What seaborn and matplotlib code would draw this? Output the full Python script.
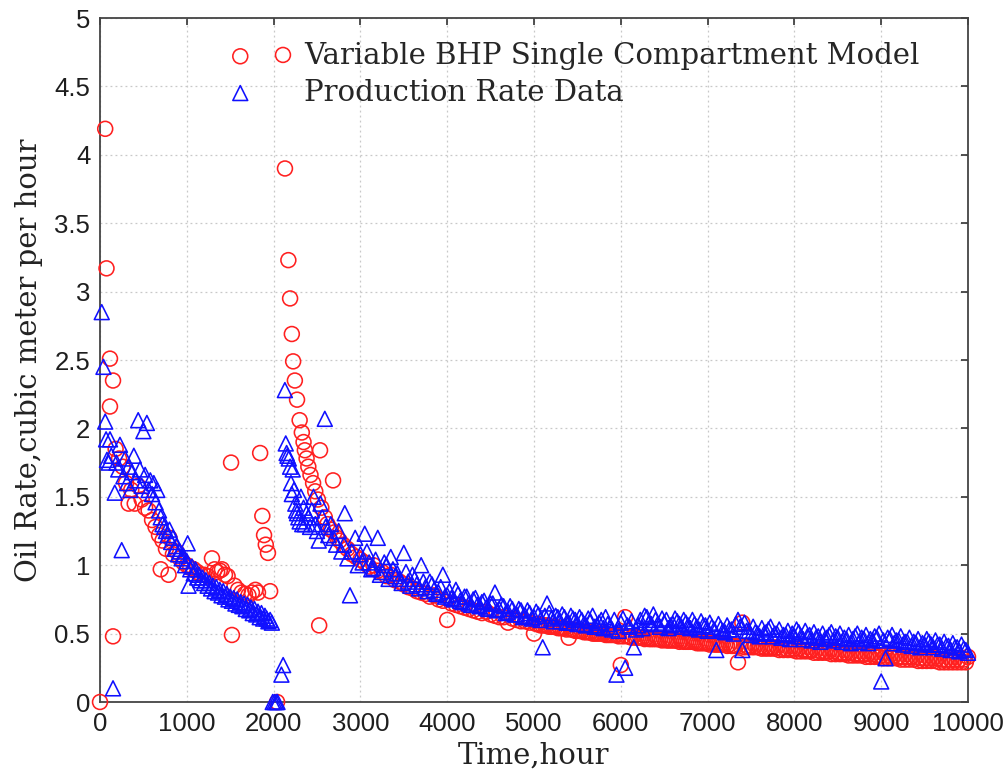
import matplotlib
matplotlib.use("Agg")
import matplotlib.pyplot as plt
import numpy as np
import pandas as pd
import seaborn as sns

# ---------------- data ----------------
# Model: first production period
model_t1 = [0, 60, 75, 115, 115, 150, 150, 180, 220, 260, 300, 330, 360, 400, 440, 480, 520,
            560, 600, 640, 680, 700, 720, 760, 790, 800, 840, 880, 920, 960, 1000, 1040,
            1080, 1120, 1160, 1200, 1240, 1290, 1320, 1350, 1380, 1405, 1440, 1470, 1510,
            1520, 1550, 1590, 1630, 1670, 1710, 1750, 1790, 1820, 1845, 1870, 1890, 1910,
            1935, 1960, 2040]
model_q1 = [0.0, 4.19, 3.17, 2.51, 2.16, 2.35, 0.48, 1.85, 1.78, 1.72, 1.60, 1.45, 1.55,
            1.45, 1.58, 1.48, 1.42, 1.40, 1.33, 1.28, 1.22, 0.97, 1.18, 1.12, 0.93, 1.20,
            1.08, 1.10, 1.05, 1.02, 1.00, 0.98, 0.97, 0.95, 0.93, 0.93, 0.92, 1.05, 0.97,
            0.95, 0.96, 0.97, 0.93, 0.92, 1.75, 0.49, 0.85, 0.82, 0.80, 0.79, 0.78, 0.80,
            0.82, 0.80, 1.82, 1.36, 1.22, 1.15, 1.09, 0.81, 0.0]
# Model: after restart
model_t2 = [2108, 2131, 2170, 2190, 2210, 2225, 2245, 2270, 2300, 2325, 2345, 2360, 2380,
            2400, 2425, 2455, 2480, 2510, 2525, 2535, 2550, 2590, 2620, 2660, 2685, 2700,
            2730, 2760, 2800, 2850, 2900, 2950]
model_q2 = [4.73, 3.90, 3.23, 2.95, 2.69, 2.49, 2.35, 2.21, 2.06, 1.97, 1.90, 1.84, 1.78,
            1.72, 1.66, 1.60, 1.54, 1.48, 0.56, 1.84, 1.42, 1.35, 1.30, 1.26, 1.62, 1.24,
            1.20, 1.18, 1.15, 1.12, 1.08, 1.06]
# Model: long decline (every 50 h)
model_t3 = [3000, 3050, 3100, 3150, 3200, 3250, 3300, 3350, 3400, 3450, 3500, 3550, 3600,
            3650, 3700, 3750, 3800, 3850, 3900, 3950, 4000, 4050, 4100, 4150, 4200, 4250,
            4300, 4350, 4400, 4450, 4500, 4550, 4600, 4650, 4700, 4750, 4800, 4850, 4900,
            4950, 5000, 5050, 5100, 5150, 5200, 5250, 5300, 5350, 5400, 5450, 5500, 5550,
            5600, 5650, 5700, 5750, 5800, 5850, 5900, 5950, 6000, 6050, 6100, 6150, 6200,
            6250, 6300, 6350, 6400, 6450, 6500, 6550, 6600, 6650, 6700, 6750, 6800, 6850,
            6900, 6950, 7000, 7050, 7100, 7150, 7200, 7250, 7300, 7350, 7400, 7450, 7500,
            7550, 7600, 7650, 7700, 7750, 7800, 7850, 7900, 7950, 8000, 8050, 8100, 8150,
            8200, 8250, 8300, 8350, 8400, 8450, 8500, 8550, 8600, 8650, 8700, 8750, 8800,
            8850, 8900, 8950, 9000, 9050, 9100, 9150, 9200, 9250, 9300, 9350, 9400, 9450,
            9500, 9550, 9600, 9650, 9700, 9750, 9800, 9850, 9900, 9950, 10000]
model_q3 = [1.04, 1.02, 0.99, 1.00, 0.96, 0.95, 0.92, 0.93, 0.89, 0.88, 0.86, 0.84, 0.83,
            0.81, 0.80, 0.79, 0.77, 0.78, 0.75, 0.74, 0.60, 0.72, 0.71, 0.70, 0.69, 0.68,
            0.67, 0.66, 0.65, 0.66, 0.64, 0.63, 0.62, 0.62, 0.58, 0.61, 0.60, 0.59, 0.59,
            0.58, 0.50, 0.57, 0.56, 0.56, 0.55, 0.55, 0.54, 0.54, 0.47, 0.53, 0.52, 0.52,
            0.51, 0.51, 0.50, 0.50, 0.50, 0.49, 0.49, 0.49, 0.27, 0.62, 0.48, 0.48, 0.47,
            0.47, 0.47, 0.46, 0.46, 0.46, 0.46, 0.45, 0.45, 0.45, 0.45, 0.44, 0.44, 0.44,
            0.43, 0.43, 0.43, 0.43, 0.42, 0.42, 0.42, 0.42, 0.41, 0.29, 0.58, 0.41, 0.41,
            0.41, 0.40, 0.40, 0.40, 0.40, 0.40, 0.39, 0.39, 0.39, 0.39, 0.39, 0.38, 0.38,
            0.38, 0.38, 0.37, 0.37, 0.37, 0.37, 0.36, 0.36, 0.36, 0.36, 0.35, 0.35, 0.35,
            0.35, 0.35, 0.34, 0.34, 0.34, 0.34, 0.34, 0.33, 0.33, 0.33, 0.33, 0.33, 0.32,
            0.32, 0.32, 0.32, 0.32, 0.31, 0.31, 0.31, 0.31, 0.31, 0.31, 0.33]
# Model: interleaved points of the late decline
model_t4 = [5025, 5075, 5125, 5175, 5225, 5275, 5325, 5375, 5425, 5475, 5525, 5575, 5625,
            5675, 5725, 5775, 5825, 5875, 5925, 5975, 6025, 6075, 6125, 6175, 6225, 6275,
            6325, 6375, 6425, 6475, 6525, 6575, 6625, 6675, 6725, 6775, 6825, 6875, 6925,
            6975, 7025, 7075, 7125, 7175, 7225, 7275, 7325, 7375, 7425, 7475, 7525, 7575,
            7625, 7675, 7725, 7775, 7825, 7875, 7925, 7975, 8025, 8075, 8125, 8175, 8225,
            8275, 8325, 8375, 8425, 8475, 8525, 8575, 8625, 8675, 8725, 8775, 8825, 8875,
            8925, 8975, 9025, 9075, 9125, 9175, 9225, 9275, 9325, 9375, 9425, 9475, 9525,
            9575, 9625, 9675, 9725, 9775, 9825, 9875, 9925, 9975]
model_q4 = [0.57, 0.56, 0.56, 0.55, 0.55, 0.54, 0.54, 0.53, 0.53, 0.52, 0.52, 0.51, 0.51,
            0.50, 0.50, 0.50, 0.49, 0.49, 0.49, 0.48, 0.48, 0.48, 0.47, 0.47, 0.47, 0.46,
            0.46, 0.46, 0.46, 0.45, 0.45, 0.45, 0.45, 0.44, 0.44, 0.44, 0.44, 0.43, 0.43,
            0.43, 0.42, 0.42, 0.42, 0.42, 0.41, 0.41, 0.41, 0.41, 0.40, 0.40, 0.40, 0.40,
            0.39, 0.39, 0.39, 0.39, 0.38, 0.38, 0.38, 0.38, 0.37, 0.37, 0.37, 0.37, 0.36,
            0.36, 0.36, 0.36, 0.35, 0.35, 0.35, 0.35, 0.34, 0.34, 0.34, 0.34, 0.33, 0.33,
            0.33, 0.33, 0.32, 0.32, 0.32, 0.32, 0.31, 0.31, 0.31, 0.31, 0.30, 0.30, 0.30,
            0.30, 0.30, 0.29, 0.29, 0.29, 0.29, 0.29, 0.29, 0.29]

# Data: first production period
data_t1 = [20, 40, 60, 70, 80, 100, 115, 130, 150, 170, 190, 210, 230, 250, 270, 290, 310,
           330, 350, 370, 390, 410, 440, 460, 480, 500, 520, 540, 560, 580, 600, 620, 640,
           660, 680, 700, 720, 740, 760, 780, 800, 820, 840, 860, 880, 900, 920, 940, 960,
           980, 1000, 1010, 1020, 1040, 1060, 1080, 1100, 1120, 1140, 1160, 1180, 1200,
           1220, 1240, 1260, 1280, 1300, 1320, 1340, 1360, 1380, 1400, 1420, 1440, 1460,
           1480, 1500, 1520, 1540, 1560, 1580, 1600, 1620, 1640, 1660, 1680, 1700, 1720,
           1740, 1760, 1780, 1800, 1820, 1840, 1860, 1880, 1900, 1920, 1940, 1960, 1980,
           1990, 2010, 2030, 2045, 2090, 2110]
data_q1 = [2.85, 2.45, 2.05, 1.92, 1.77, 1.75, 1.92, 1.80, 0.10, 1.53, 1.75, 1.70, 1.88,
           1.11, 1.65, 1.78, 1.60, 1.72, 1.55, 1.68, 1.80, 1.62, 2.06, 1.70, 1.58, 1.98,
           1.66, 2.04, 1.55, 1.62, 1.52, 1.60, 1.46, 1.55, 1.40, 1.35, 1.30, 1.28, 1.25,
           1.22, 1.26, 1.17, 1.20, 1.12, 1.14, 1.08, 1.10, 1.05, 1.07, 1.00, 1.03, 1.16,
           0.85, 0.97, 0.99, 0.94, 0.97, 0.91, 0.93, 0.89, 0.91, 0.87, 0.89, 0.85, 0.87,
           0.83, 0.85, 0.81, 0.84, 0.80, 0.82, 0.78, 0.81, 0.77, 0.79, 0.75, 0.77, 0.74,
           0.76, 0.72, 0.75, 0.71, 0.73, 0.70, 0.72, 0.68, 0.71, 0.67, 0.69, 0.65, 0.68,
           0.64, 0.66, 0.62, 0.65, 0.61, 0.63, 0.61, 0.59, 0.60, 0.58, 0.0, 0.0, 0.0,
           0.0, 0.20, 0.27]
# Data: after restart
data_t2 = [2130, 2140, 2150, 2160, 2175, 2190, 2200, 2210, 2220, 2235, 2250, 2260, 2270,
           2285, 2300, 2315, 2330, 2345, 2360, 2380, 2400, 2420, 2440, 2460, 2480, 2500,
           2520, 2540, 2560, 2590, 2600, 2630, 2660, 2690, 2720, 2750, 2780, 2810, 2820,
           2850, 2880, 2900, 2940, 2970]
data_q2 = [2.28, 1.89, 1.82, 1.80, 1.78, 1.72, 1.60, 1.52, 1.70, 1.55, 1.45, 1.40, 1.38,
           1.35, 1.32, 1.50, 1.30, 1.42, 1.30, 1.38, 1.35, 1.28, 1.40, 1.50, 1.30, 1.25,
           1.18, 1.45, 1.35, 2.07, 1.28, 1.22, 1.30, 1.20, 1.15, 1.25, 1.10, 1.15, 1.38,
           1.05, 0.78, 1.10, 1.20, 1.00]
# Data: long decline (every 50 h)
data_t3 = model_t3
data_q3 = [1.08, 1.23, 1.02, 0.98, 1.20, 0.95, 1.00, 1.06, 0.92, 0.90, 1.09, 0.88, 0.93,
           0.86, 1.00, 0.84, 0.88, 0.82, 0.80, 0.93, 0.78, 0.76, 0.82, 0.74, 0.77, 0.72,
           0.75, 0.71, 0.73, 0.69, 0.72, 0.80, 0.68, 0.70, 0.66, 0.68, 0.64, 0.67, 0.63,
           0.65, 0.62, 0.64, 0.40, 0.72, 0.61, 0.63, 0.59, 0.62, 0.58, 0.61, 0.57, 0.60,
           0.56, 0.59, 0.55, 0.58, 0.54, 0.57, 0.53, 0.20, 0.58, 0.25, 0.55, 0.40, 0.56,
           0.54, 0.62, 0.57, 0.60, 0.55, 0.58, 0.54, 0.57, 0.59, 0.55, 0.58, 0.54, 0.57,
           0.53, 0.56, 0.52, 0.55, 0.38, 0.54, 0.51, 0.53, 0.50, 0.60, 0.38, 0.52, 0.49,
           0.51, 0.48, 0.50, 0.53, 0.48, 0.50, 0.47, 0.49, 0.46, 0.48, 0.51, 0.46, 0.48,
           0.45, 0.47, 0.44, 0.46, 0.49, 0.45, 0.47, 0.44, 0.46, 0.43, 0.48, 0.44, 0.46,
           0.43, 0.45, 0.47, 0.15, 0.32, 0.46, 0.43, 0.45, 0.42, 0.44, 0.41, 0.43, 0.40,
           0.42, 0.44, 0.40, 0.42, 0.39, 0.41, 0.38, 0.40, 0.37, 0.39, 0.36]
# Data: interleaved points of the decline
data_t4 = [3025, 3075, 3125, 3175, 3225, 3275, 3325, 3375, 3425, 3475, 3525, 3575, 3625,
           3675, 3725, 3775, 3825, 3875, 3925, 3975, 4025, 4075, 4125, 4175, 4225, 4275,
           4325, 4375, 4425, 4475, 4525, 4575, 4625, 4675, 4725, 4775, 4825, 4875, 4925,
           4975] + model_t4
data_q4 = [1.02, 1.10, 0.97, 1.04, 0.93, 1.02, 0.90, 0.97, 0.94, 0.87, 0.95, 0.85, 0.90,
           0.83, 0.88, 0.81, 0.86, 0.79, 0.84, 0.77, 0.81, 0.75, 0.79, 0.73, 0.77, 0.71,
           0.76, 0.70, 0.74, 0.68, 0.72, 0.67, 0.71, 0.65, 0.70, 0.64, 0.68, 0.62, 0.67,
           0.61,
           0.66, 0.60, 0.63, 0.65, 0.59, 0.62, 0.64, 0.58, 0.63, 0.60, 0.62, 0.57, 0.61,
           0.63, 0.56, 0.60, 0.62, 0.55, 0.60, 0.52, 0.61, 0.56, 0.59, 0.53, 0.60, 0.63,
           0.58, 0.64, 0.57, 0.61, 0.60, 0.56, 0.61, 0.57, 0.60, 0.56, 0.60, 0.55, 0.59,
           0.56, 0.58, 0.53, 0.57, 0.52, 0.56, 0.53, 0.57, 0.55, 0.58, 0.52, 0.55, 0.50,
           0.54, 0.51, 0.55, 0.50, 0.53, 0.49, 0.52, 0.50, 0.53, 0.48, 0.52, 0.49, 0.51,
           0.48, 0.50, 0.47, 0.51, 0.48, 0.50, 0.47, 0.49, 0.46, 0.50, 0.47, 0.49, 0.46,
           0.48, 0.50, 0.45, 0.47, 0.49, 0.45, 0.48, 0.44, 0.47, 0.44, 0.46, 0.43, 0.46,
           0.42, 0.45, 0.42, 0.44, 0.41, 0.43, 0.40, 0.42, 0.38]

x_ticks = [0, 1000, 2000, 3000, 4000, 5000, 6000, 7000, 8000, 9000, 10000]
y_ticks = [0, 0.5, 1, 1.5, 2, 2.5, 3, 3.5, 4, 4.5, 5]
y_tick_labels = ["0", "0.5", "1", "1.5", "2", "2.5", "3", "3.5", "4", "4.5", "5"]
label_model = "Variable BHP Single Compartment Model"
label_data = "Production Rate Data"

model_df = pd.DataFrame({"t": model_t1 + model_t2 + model_t3 + model_t4,
                         "q": model_q1 + model_q2 + model_q3 + model_q4})
data_df = pd.DataFrame({"t": data_t1 + data_t2 + data_t3 + data_t4,
                        "q": data_q1 + data_q2 + data_q3 + data_q4})

# ---------------- styling ----------------
sns.set_theme(style="white")
plt.rcParams["font.family"] = ["Liberation Sans", "DejaVu Sans"]

fig = plt.figure(figsize=(10.08, 7.81), dpi=100)
ax = fig.add_axes([100 / 1008, 1 - 702 / 781, 868 / 1008, 684 / 781])

sns.scatterplot(data=model_df, x="t", y="q", marker="o", s=115, facecolor="none",
                edgecolor="#ff2020", linewidth=1.15, ax=ax, label=label_model,
                clip_on=False, zorder=3)
sns.scatterplot(data=data_df, x="t", y="q", marker="^", s=115, facecolor="none",
                edgecolor="#1010ff", linewidth=1.15, ax=ax, label=label_data,
                clip_on=False, zorder=4)

ax.set_xlim(0, 10000)
ax.set_ylim(0, 5)
ax.set_xticks(x_ticks)
ax.set_yticks(y_ticks)
ax.set_yticklabels(y_tick_labels)
ax.grid(True, linestyle=(0, (1.5, 2.5)), color="#c8c8c8", linewidth=0.9)
ax.set_axisbelow(True)
ax.tick_params(direction="in", length=5, width=1.2, top=True, right=True,
               labelsize=18.5, colors="#333333", labelcolor="#1e1e1e", pad=7)
for sp in ax.spines.values():
    sp.set_visible(True)
    sp.set_color("#444444")
    sp.set_linewidth(1.3)
    sp.set_zorder(2)

serif = ["DejaVu Serif"]
ax.set_xlabel("Time,hour", fontsize=21, family=serif, color="#222222", labelpad=4)
ax.set_ylabel("Oil Rate,cubic meter per hour", fontsize=21, family=serif,
              color="#222222", labelpad=8)

ax.legend(loc="upper left", bbox_to_anchor=(0.128, 0.965), frameon=False,
          prop={"family": serif, "size": 21}, handlelength=2.0, handletextpad=1.2,
          borderpad=0, borderaxespad=0, labelspacing=0.3)

fig.savefig("out.png", dpi=100)
